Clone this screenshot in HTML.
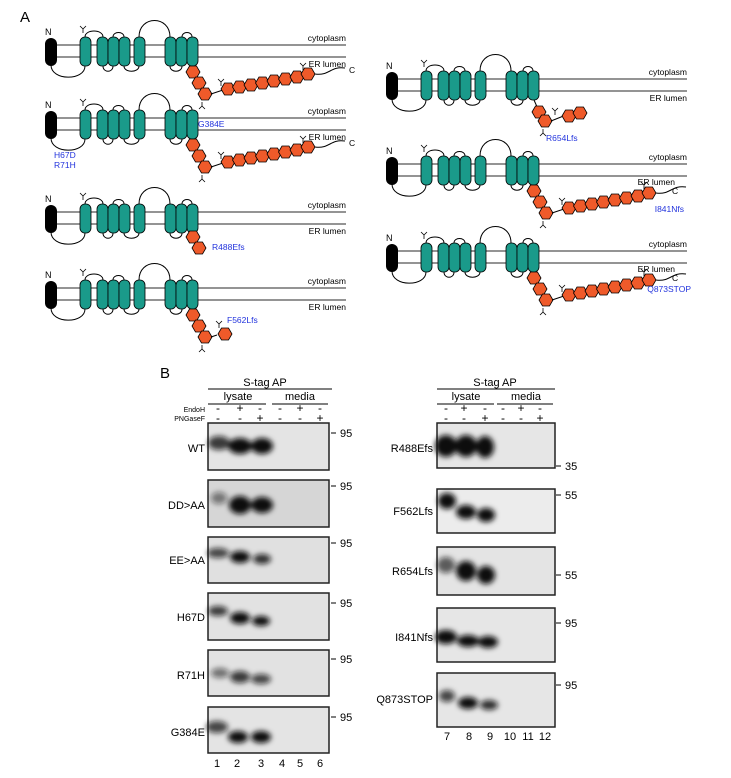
<!DOCTYPE html>
<html><head><meta charset="utf-8"><style>
html,body{margin:0;padding:0;background:#fff;}
svg{display:block;font-family:"Liberation Sans",sans-serif;}
</style></head><body>
<svg width="731" height="778" viewBox="0 0 731 778" xmlns="http://www.w3.org/2000/svg">
<defs>
<filter id="bl" x="-50%" y="-50%" width="200%" height="200%"><feGaussianBlur stdDeviation="2.6"/></filter>
<polygon id="h" points="-7,0 -3.5,-6 3.5,-6 7,0 3.5,6 -3.5,6" fill="#ef5a2a" stroke="#000" stroke-width="0.8"/>
<g id="y" stroke="#000" stroke-width="0.8" fill="none"><path d="M0,0 V-4 M0,-4 L-3,-7 M0,-4 L3,-7"/></g>
<g id="core">
 <g fill="none" stroke="#000" stroke-width="1">
  <path d="M6,20 C6,36 40,36 40,21"/>
  <path d="M40,-8 C40,-16 58,-16 58,-8"/>
  <path d="M58,21 C58,28 68,28 68,21"/>
  <path d="M68,-8 C68,-14 79,-14 79,-8"/>
  <path d="M79,21 C79,28 94,28 94,21"/>
  <path d="M94,-8 C94,-30 125,-30 125,-8"/>
  <path d="M125,21 C125,28 137,28 137,21"/>
  <path d="M137,-8 C137,-14 147,-14 147,-8"/>
 </g>
 <rect x="0" y="-7" width="12" height="28" rx="6" fill="#000"/>
 <g fill="#1a9a8a" stroke="#000" stroke-width="0.8">
  <rect x="35" y="-8" width="11" height="29" rx="5"/>
  <rect x="52" y="-8" width="11" height="29" rx="5"/>
  <rect x="63" y="-8" width="11" height="29" rx="5"/>
  <rect x="74" y="-8" width="11" height="29" rx="5"/>
  <rect x="89" y="-8" width="11" height="29" rx="5"/>
  <rect x="120" y="-8" width="11" height="29" rx="5"/>
  <rect x="131" y="-8" width="11" height="29" rx="5"/>
  <rect x="142" y="-8" width="11" height="29" rx="5"/>
 </g>
 <use href="#y" x="38" y="-12"/>
 <text x="0" y="-10" font-size="9">N</text>
</g>
<g id="diag3">
 <use href="#h" x="148" y="27"/><use href="#h" x="154" y="38"/><use href="#h" x="160" y="49"/>
 <g transform="translate(157,57) rotate(180)"><use href="#y"/></g>
</g>
<g id="full">
 <use href="#diag3"/>
 <path d="M166,49 L178,45" stroke="#000" fill="none"/>
 <use href="#y" x="176" y="41"/>
 <use href="#h" x="183" y="44"/><use href="#h" x="194.5" y="42"/><use href="#h" x="206" y="40"/><use href="#h" x="217.5" y="38"/><use href="#h" x="229" y="36"/><use href="#h" x="240.5" y="34"/><use href="#h" x="252" y="32"/><use href="#h" x="263" y="29"/>
 <use href="#y" x="258" y="25"/>
 <path d="M270,29 C285,31 285,21 300,23" stroke="#000" fill="none"/>
</g>
</defs>

<text x="20" y="22" font-size="15">A</text>

<g transform="translate(45,45)">
 <path d="M0,0 H301 M0,12 H301" stroke="#555" stroke-width="1.3"/>
 <use href="#core"/><use href="#full"/>
 <text x="301" y="-4" font-size="8.5" text-anchor="end">cytoplasm</text>
 <text x="301" y="22" font-size="8.5" text-anchor="end">ER lumen</text>
 <text x="304" y="28" font-size="8.5">C</text>
</g>
<g transform="translate(45,118)">
 <path d="M0,0 H301 M0,12 H301" stroke="#555" stroke-width="1.3"/>
 <use href="#core"/><use href="#full"/>
 <text x="301" y="-4" font-size="8.5" text-anchor="end">cytoplasm</text>
 <text x="301" y="22" font-size="8.5" text-anchor="end">ER lumen</text>
 <text x="304" y="28" font-size="8.5">C</text>
 <text x="153" y="9" font-size="8.5" fill="#2233dd">G384E</text>
 <text x="9" y="40" font-size="8.5" fill="#2233dd">H67D</text>
 <text x="9" y="50" font-size="8.5" fill="#2233dd">R71H</text>
</g>
<g transform="translate(45,212)">
 <path d="M0,0 H301 M0,12 H301" stroke="#555" stroke-width="1.3"/>
 <use href="#core"/>
 <use href="#h" x="148" y="25"/><use href="#h" x="154" y="36"/>
 <text x="301" y="-4" font-size="8.5" text-anchor="end">cytoplasm</text>
 <text x="301" y="22" font-size="8.5" text-anchor="end">ER lumen</text>
 <text x="167" y="38" font-size="8.5" fill="#2233dd">R488Efs</text>
</g>
<g transform="translate(45,288)">
 <path d="M0,0 H301 M0,12 H301" stroke="#555" stroke-width="1.3"/>
 <use href="#core"/>
 <use href="#h" x="148" y="27"/><use href="#h" x="154" y="38"/><use href="#h" x="160" y="49"/>
 <g transform="translate(157,57) rotate(180)"><use href="#y"/></g>
 <path d="M166,49 L172,47" stroke="#000"/>
 <use href="#y" x="174" y="40"/>
 <use href="#h" x="180" y="46"/>
 <text x="182" y="35" font-size="8.5" fill="#2233dd">F562Lfs</text>
 <text x="301" y="-4" font-size="8.5" text-anchor="end">cytoplasm</text>
 <text x="301" y="22" font-size="8.5" text-anchor="end">ER lumen</text>
</g>
<g transform="translate(386,79)">
 <path d="M0,0 H301 M0,12 H301" stroke="#555" stroke-width="1.3"/>
 <use href="#core"/>
 <path d="M148,21 L152,30" stroke="#000"/>
 <use href="#h" x="153" y="33"/><use href="#h" x="159" y="42"/>
 <g transform="translate(157,50) rotate(180)"><use href="#y"/></g>
 <path d="M165,42 L180,36" stroke="#000"/>
 <use href="#y" x="169" y="36"/>
 <use href="#h" x="183" y="37"/><use href="#h" x="194" y="34"/>
 <text x="301" y="-4" font-size="8.5" text-anchor="end">cytoplasm</text>
 <text x="301" y="22" font-size="8.5" text-anchor="end">ER lumen</text>
 <text x="160" y="62" font-size="8.5" fill="#2233dd">R654Lfs</text>
</g>
<g transform="translate(386,164)">
 <path d="M0,0 H301 M0,12 H301" stroke="#555" stroke-width="1.3"/>
 <use href="#core"/><use href="#full"/>
 <text x="301" y="-4" font-size="8.5" text-anchor="end">cytoplasm</text>
 <text x="289" y="21" font-size="8.5" text-anchor="end">ER lumen</text>
 <text x="286" y="30" font-size="8.5">C</text>
 <text x="298" y="48" font-size="8.5" fill="#2233dd" text-anchor="end">I841Nfs</text>
</g>
<g transform="translate(386,251)">
 <path d="M0,0 H301 M0,12 H301" stroke="#555" stroke-width="1.3"/>
 <use href="#core"/><use href="#full"/>
 <text x="301" y="-4" font-size="8.5" text-anchor="end">cytoplasm</text>
 <text x="289" y="21" font-size="8.5" text-anchor="end">ER lumen</text>
 <text x="286" y="30" font-size="8.5">C</text>
 <text x="305" y="41" font-size="8.5" fill="#2233dd" text-anchor="end">Q873STOP</text>
</g>

<text x="160" y="378" font-size="15">B</text>

<g font-size="11" text-anchor="middle">
 <text x="265" y="386">S-tag AP</text>
 <path d="M208,389 H332 M208,404 H266 M272,404 H328 M437,389 H555 M437,404 H494 M497,404 H553" stroke="#000" stroke-width="1"/>
 <text x="238" y="400">lysate</text><text x="300" y="400">media</text>
 <text x="495" y="386">S-tag AP</text>
 <text x="466" y="400">lysate</text><text x="526" y="400">media</text>
 <g font-size="12">
  <text x="218" y="412">-</text><text x="240" y="412">+</text><text x="260" y="412">-</text><text x="280" y="412">-</text><text x="300" y="412">+</text><text x="320" y="412">-</text>
  <text x="218" y="422">-</text><text x="240" y="422">-</text><text x="260" y="422">+</text><text x="280" y="422">-</text><text x="300" y="422">-</text><text x="320" y="422">+</text>
  <text x="446" y="412">-</text><text x="464" y="412">+</text><text x="485" y="412">-</text><text x="503" y="412">-</text><text x="521" y="412">+</text><text x="540" y="412">-</text>
  <text x="446" y="422">-</text><text x="464" y="422">-</text><text x="485" y="422">+</text><text x="503" y="422">-</text><text x="521" y="422">-</text><text x="540" y="422">+</text>
 </g>
</g>
<text x="205" y="412" font-size="7" text-anchor="end">EndoH</text>
<text x="205" y="421" font-size="7" text-anchor="end">PNGaseF</text>

<g stroke="#222" stroke-width="1.5">
 <rect x="208" y="423" width="121" height="47" fill="#e4e4e4"/>
 <rect x="208" y="480" width="121" height="47" fill="#d6d6d6"/>
 <rect x="208" y="537" width="121" height="46" fill="#e0e0e0"/>
 <rect x="208" y="593" width="121" height="47" fill="#e2e2e2"/>
 <rect x="208" y="650" width="121" height="46" fill="#e2e2e2"/>
 <rect x="208" y="707" width="121" height="46" fill="#e4e4e4"/>
 <rect x="437" y="423" width="118" height="45" fill="#e6e6e6"/>
 <rect x="437" y="489" width="118" height="44" fill="#ececec"/>
 <rect x="437" y="547" width="118" height="48" fill="#e4e4e4"/>
 <rect x="437" y="608" width="118" height="54" fill="#e6e6e6"/>
 <rect x="437" y="673" width="118" height="54" fill="#e6e6e6"/>
</g>
<g filter="url(#bl)" fill="#111">
 <ellipse cx="219" cy="443" rx="11" ry="7" opacity="0.8"/><ellipse cx="240" cy="446" rx="12" ry="8"/><ellipse cx="262" cy="446" rx="11" ry="8"/>
 <ellipse cx="219" cy="498" rx="8" ry="6" opacity="0.5"/><ellipse cx="240" cy="505" rx="11" ry="9"/><ellipse cx="262" cy="505" rx="11" ry="8"/>
 <ellipse cx="218" cy="553" rx="11" ry="5" opacity="0.75"/><ellipse cx="240" cy="557" rx="10" ry="6"/><ellipse cx="262" cy="559" rx="9" ry="5" opacity="0.85"/>
 <ellipse cx="218" cy="611" rx="10" ry="5" opacity="0.8"/><ellipse cx="240" cy="618" rx="10" ry="6"/><ellipse cx="261" cy="621" rx="9" ry="5"/>
 <ellipse cx="220" cy="673" rx="9" ry="5" opacity="0.55"/><ellipse cx="240" cy="677" rx="10" ry="6" opacity="0.8"/><ellipse cx="261" cy="679" rx="10" ry="5" opacity="0.75"/>
 <ellipse cx="217" cy="727" rx="11" ry="6" opacity="0.75"/><ellipse cx="238" cy="737" rx="10" ry="6"/><ellipse cx="261" cy="737" rx="10" ry="6"/>
 <ellipse cx="446" cy="446" rx="11" ry="11"/><ellipse cx="466" cy="446" rx="11" ry="11"/><ellipse cx="485" cy="447" rx="9" ry="11"/>
 <ellipse cx="447" cy="501" rx="9" ry="8"/><ellipse cx="466" cy="512" rx="10" ry="7"/><ellipse cx="486" cy="515" rx="9" ry="7"/>
 <ellipse cx="446" cy="565" rx="9" ry="8" opacity="0.65"/><ellipse cx="466" cy="571" rx="10" ry="10"/><ellipse cx="486" cy="575" rx="9" ry="9"/>
 <ellipse cx="446" cy="637" rx="11" ry="7"/><ellipse cx="468" cy="641" rx="11" ry="6"/><ellipse cx="488" cy="642" rx="10" ry="6"/>
 <ellipse cx="447" cy="696" rx="8" ry="6" opacity="0.75"/><ellipse cx="468" cy="703" rx="10" ry="6"/><ellipse cx="489" cy="705" rx="9" ry="5" opacity="0.85"/>
</g>
<g font-size="11" text-anchor="end">
 <text x="205" y="452">WT</text><text x="205" y="509">DD&gt;AA</text><text x="205" y="564">EE&gt;AA</text>
 <text x="205" y="621">H67D</text><text x="205" y="679">R71H</text><text x="205" y="736">G384E</text>
 <text x="433" y="452">R488Efs</text><text x="433" y="515">F562Lfs</text><text x="433" y="575">R654Lfs</text>
 <text x="433" y="641">I841Nfs</text><text x="433" y="703">Q873STOP</text>
</g>
<g font-size="11">
 <path d="M331,433 H336 M331,486 H336 M331,543 H336 M331,603 H336 M331,659 H336 M331,717 H336 M556,466 H561 M556,495 H561 M556,575 H561 M556,623 H561 M556,685 H561" stroke="#000"/>
 <text x="340" y="437">95</text><text x="340" y="490">95</text><text x="340" y="547">95</text><text x="340" y="607">95</text><text x="340" y="663">95</text><text x="340" y="721">95</text>
 <text x="565" y="470">35</text><text x="565" y="499">55</text><text x="565" y="579">55</text><text x="565" y="627">95</text><text x="565" y="689">95</text>
</g>
<g font-size="11" text-anchor="middle">
 <text x="217" y="767">1</text><text x="237" y="767">2</text><text x="261" y="767">3</text><text x="282" y="767">4</text><text x="300" y="767">5</text><text x="320" y="767">6</text>
 <text x="447" y="740">7</text><text x="469" y="740">8</text><text x="490" y="740">9</text><text x="510" y="740">10</text><text x="528" y="740">11</text><text x="545" y="740">12</text>
</g>
</svg>
</body></html>
